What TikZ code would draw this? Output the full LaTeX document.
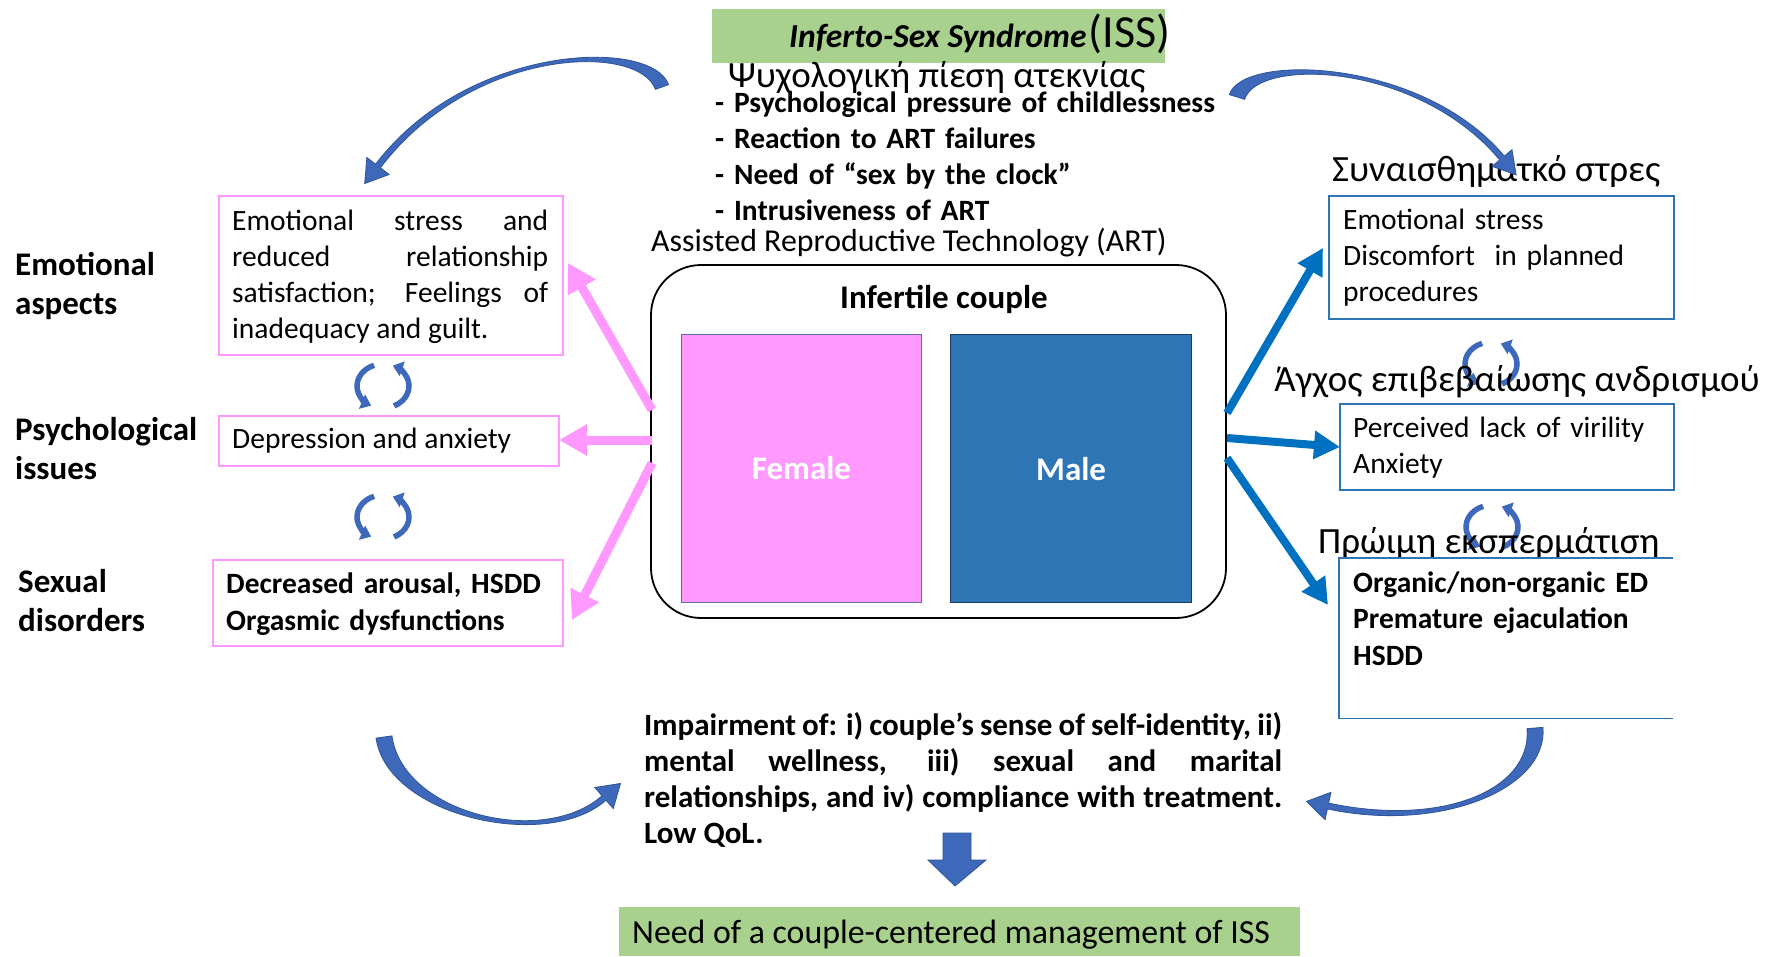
\documentclass[tikz,border=0pt]{standalone}
\usepackage{fontspec}
\setmainfont{Carlito}
\usetikzlibrary{arrows.meta,calc}
\definecolor{pinkc}{RGB}{255,153,255}
\definecolor{rblue}{RGB}{0,112,192}
\definecolor{boxblue}{RGB}{46,117,182}
\definecolor{malefill}{RGB}{46,117,182}
\definecolor{maleedge}{RGB}{31,56,100}
\definecolor{femedge}{RGB}{90,110,170}
\definecolor{cfill}{RGB}{62,104,186}
\definecolor{cedge}{RGB}{47,85,151}
\definecolor{greenc}{RGB}{169,209,142}
\newcommand\fs[2]{\fontsize{#1}{#2}\selectfont}
\newcommand\cArrow[8]{%
\path[carrow] ($(#1)!#5!90:(#2)$) .. controls ($(#2)!#5!-90:(#1)$) and ($(#3)!#6!90:(#4)$) .. ($(#4)!#6!-90:(#3)$)
 -- ($(#4)!#7!-90:(#3)$) -- ($(#4)!-#8!(#3)$) -- ($(#4)!#7!90:(#3)$) -- ($(#4)!#6!90:(#3)$)
 .. controls ($(#3)!#6!-90:(#4)$) and ($(#2)!#5!90:(#1)$) .. ($(#1)!#5!-90:(#2)$) -- cycle;}
\newcommand\cycIcon[1]{%
 \draw[cyc] ($(#1)+(110:26pt and 22pt)$) arc[start angle=110,end angle=243,x radius=26pt,y radius=22pt];
 \draw[cyc] ($(#1)+(-65:26pt and 22pt)$) arc[start angle=-65,end angle=68,x radius=26pt,y radius=22pt];}
\tikzset{
 lbl/.style={anchor=base west, inner sep=0pt, font=\bfseries\fs{33}{39}, text width=300pt, align=left},
 body/.style={anchor=base west, inner sep=0pt, font=\fs{29.5}{36}},
 greek/.style={anchor=base west, inner sep=0pt, font=\fs{37}{44}},
 pinkbox/.style={draw=pinkc, line width=1.8pt, anchor=north west, inner sep=0pt},
 bluebox/.style={draw=boxblue, line width=1.6pt, anchor=north west, inner sep=0pt},
 parr/.style={draw=pinkc, line width=9pt, -{Triangle[length=28pt,width=30pt]}},
 barr/.style={draw=rblue, line width=8pt, -{Triangle[length=26pt,width=27pt]}},
 carrow/.style={fill=cfill, draw=cedge, line width=0.8pt},
 cyc/.style={draw=cfill, line width=5.5pt, -{Triangle[length=10pt,width=15pt]}},
 greenbox/.style={fill=greenc, anchor=north west, inner sep=0pt},
}
\begin{document}
\begin{tikzpicture}[x=1pt,y=-1pt]
\useasboundingbox (0,0) rectangle (1777,956);
\fill[white] (0,0) rectangle (1777,956);
% green boxes
\node[greenbox, minimum width=453pt, minimum height=54pt] (titlebox) at (712,9) {};
\node[greenbox, minimum width=681pt, minimum height=49pt] (needbox) at (619,907) {};
\node[anchor=base west, inner sep=0pt] (title) at (789,47) {{\bfseries\itshape\fs{33.5}{38}Inferto-Sex Syndrome} {\fs{46}{50}(ISS)}};
\node[anchor=base west, inner sep=0pt, font=\fs{33.8}{39}] (need) at (632,943) {Need of a couple-centered management of ISS};
% top texts
\node[greek] (gpsy) at (728,87) {Ψυχολογική πίεση ατεκνίας};
\node[anchor=base west, inner sep=0pt, text width=600pt, align=left, font=\bfseries\fs{29.5}{36}] (bul) at (715,112) {- Psychological pressure of childlessness\\- Reaction to ART failures\\- Need of “sex by the clock”\\- Intrusiveness of ART};
\node[anchor=base west, inner sep=0pt, font=\fs{31.9}{37}] (art) at (651,251) {Assisted Reproductive Technology (ART)};
% couple
\node[draw, line width=1.8pt, rounded corners=50pt, minimum width=575pt, minimum height=353pt, inner sep=0pt] (couple) at (938.5,441.5) {};
\node[anchor=base, inner sep=0pt, font=\bfseries\fs{33}{39}] (ctitle) at (944,308) {Infertile couple};
\node[fill=pinkc, draw=femedge, line width=1pt, minimum width=240pt, minimum height=268pt, anchor=north west, inner sep=0pt, text=white, font=\bfseries\fs{33}{39}] (female) at (681,334) {Female};
\node[fill=malefill, draw=maleedge, line width=1.2pt, minimum width=241pt, minimum height=268pt, anchor=north west, inner sep=0pt, text=white, font=\bfseries\fs{33}{39}] (male) at (950,334) {Male};
% left labels
\node[lbl] (emo) at (15,275) {Emotional\\aspects};
\node[lbl] (psy) at (15,440) {Psychological\\issues};
\node[lbl] (sex) at (18,592) {Sexual\\disorders};
% pink boxes
\node[pinkbox, minimum width=344pt, minimum height=159pt] (pb1) at (218,195) {};
\node[pinkbox, minimum width=340pt, minimum height=50pt] (pb2) at (218,415) {};
\node[pinkbox, minimum width=350pt, minimum height=86pt] (pb3) at (212,559) {};
\node[body, text width=316pt, align=justify] (pt1) at (232,230) {Emotional stress and\linebreak reduced relationship\linebreak satisfaction; Feelings of\linebreak inadequacy and guilt.};
\node[body] (pt2) at (232,448) {Depression and anxiety};
\node[body, font=\bfseries\fs{29.5}{37}, text width=330pt, align=left] (pt3) at (226,593) {Decreased arousal, HSDD\\Orgasmic dysfunctions};
% cycle icons
\coordinate (cy1) at (383,386); \coordinate (cy2) at (383,517);
\coordinate (cy3) at (1491,364); \coordinate (cy4) at (1492,527);
\cycIcon{cy1}\cycIcon{cy2}\cycIcon{cy3}\cycIcon{cy4}
% right side
\node[greek] (g1) at (1332,181) {Συναισθηματκό στρες};
\node[greek, anchor=base east] (g2) at (1760,391) {Άγχος επιβεβαίωσης ανδρισμού};
\node[greek] (g3) at (1318,553) {Πρώιμη εκσπερμάτιση};
\node[bluebox, minimum width=345pt, minimum height=123pt] (bb1) at (1328,195) {};
\node[bluebox, minimum width=334pt, minimum height=86pt] (bb2) at (1339,403) {};
\node[anchor=north west, inner sep=0pt, minimum width=334pt, minimum height=160pt] (bb3) at (1339,558) {};
\draw[boxblue, line width=1.6pt] (bb3.north east) -- (bb3.north west) -- (bb3.south west) -- (bb3.south east);
\node[body, text width=320pt, align=left] (bt1) at (1343,229) {Emotional stress\\Discomfort~ in planned\\procedures};
\node[body, text width=310pt, align=left] (bt2) at (1353,437) {Perceived lack of virility\\Anxiety};
\node[body, font=\bfseries\fs{29.5}{36.5}, text width=310pt, align=left] (bt3) at (1353,592) {Organic/non-organic ED\\Premature ejaculation\\HSDD};
% impairment
\node[anchor=base west, inner sep=0pt, text width=638pt, align=justify, font=\bfseries\fs{31}{36.3}] (imp) at (644,735) {Impairment of: i) couple’s sense of self-identity, ii)\linebreak mental wellness, iii) sexual and marital\linebreak relationships, and iv) compliance with treatment.\linebreak Low QoL.};
% straight arrows
\coordinate (ps1) at (652,410); \coordinate (pe1) at (568,263);
\coordinate (ps2) at (652,440); \coordinate (pe2) at (559,440);
\coordinate (ps3) at (652,463); \coordinate (pe3) at (572,620);
\coordinate (bs1) at (1227,413); \coordinate (be1) at (1323,248);
\coordinate (bs2) at (1227,438); \coordinate (be2) at (1340,447);
\coordinate (bs3) at (1227,458); \coordinate (be3) at (1328,605);
\draw[parr] (ps1) -- (pe1);
\draw[parr] (ps2) -- (pe2);
\draw[parr] (ps3) -- (pe3);
\draw[barr] (bs1) -- (be1);
\draw[barr] (bs2) -- (be2);
\draw[barr] (bs3) -- (be3);
% curved arrows
\coordinate (tl0) at (662,87); \coordinate (tl1) at (645,40); \coordinate (tl2) at (470,45); \coordinate (tl3) at (378,166);
\cArrow{tl0}{tl1}{tl2}{tl3}{7pt}{3pt}{14pt}{22pt}
\coordinate (tr0) at (1237,97); \coordinate (tr1) at (1250,55); \coordinate (tr2) at (1420,60); \coordinate (tr3) at (1502,158);
\cArrow{tr0}{tr1}{tr2}{tr3}{8pt}{3pt}{13pt}{22pt}
\coordinate (bl0) at (384,737); \coordinate (bl1) at (395,815); \coordinate (bl2) at (545,850); \coordinate (bl3) at (604,798);
\cArrow{bl0}{bl1}{bl2}{bl3}{8pt}{3pt}{14pt}{22pt}
\coordinate (br0) at (1535,728); \coordinate (br1) at (1540,790); \coordinate (br2) at (1440,830); \coordinate (br3) at (1328,806);
\cArrow{br0}{br1}{br2}{br3}{8pt}{3pt}{14pt}{22pt}
% down block arrow
\path[carrow] (943,833) -- (971,833) -- (971,860) -- (986,860) -- (955,886) -- (928,860) -- (943,860) -- cycle;
\end{tikzpicture}
\end{document}
